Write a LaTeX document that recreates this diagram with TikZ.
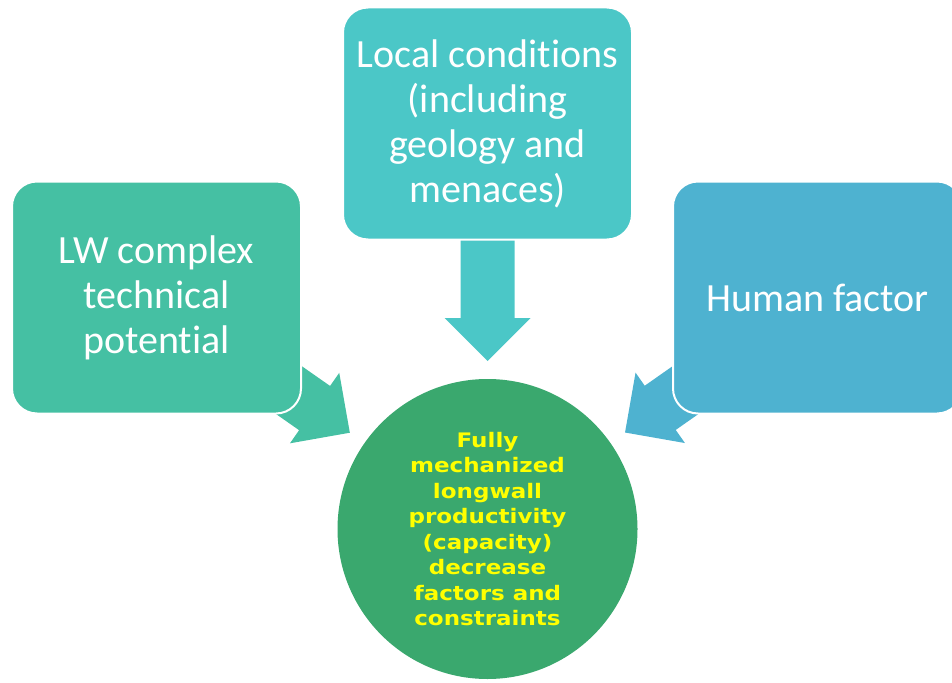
\documentclass[tikz,border=0pt]{standalone}
\usepackage{fontspec}
\setmainfont{Carlito}[Ligatures=NoCommon]
\newfontfamily\circfont{DejaVu Sans}[FakeStretch=1.15]
\usetikzlibrary{calc,backgrounds}
\definecolor{cLW}{RGB}{69,192,163}
\definecolor{cLoc}{RGB}{75,199,199}
\definecolor{cHum}{RGB}{78,178,208}
\definecolor{cProd}{RGB}{58,168,110}
\definecolor{cTxt}{RGB}{255,255,0}
\newcommand\blockarrow[3]{%
  \coordinate (hb) at ($(#2)!43pt!(#1)$);
  \fill[#3] ($(#1)!27pt!-90:(#2)$) -- ($(hb)!27pt!90:(#1)$) -- ($(hb)!43pt!90:(#1)$) -- (#2)
    -- ($(hb)!43pt!-90:(#1)$) -- ($(hb)!27pt!-90:(#1)$) -- ($(#1)!27pt!90:(#2)$) -- cycle;}
\begin{document}
\begin{tikzpicture}[x=1pt,y=-1pt,
  box/.style={rectangle, rounded corners=25pt, minimum width=289pt, minimum height=232pt,
    draw=white, line width=2pt, inner sep=0pt, text=white, align=center,
    font=\fontsize{40}{45}\selectfont},
  hub/.style={circle, minimum size=300pt, inner sep=0pt, fill=cProd, text=cTxt, align=center,
    font=\circfont\bfseries\fontsize{20}{25.5}\selectfont}]
\useasboundingbox (0,0) rectangle (952,682);
\clip (0,0) rectangle (952,682);
\node[box, fill=cLW] (lw) at (156.5,297.5) {LW complex\\technical\\potential};
\node[box, fill=cLoc] (loc) at (487.5,123.5) {Local conditions\\(including\\geology and\\menaces)};
\node[box, fill=cHum] (hum) at (817.5,297.5) {Human factor};
\node[hub] (prod) at (487.5,529) {Fully\\mechanized\\longwall\\productivity\\(capacity)\\decrease\\factors and\\constraints};
\coordinate (tipL) at ($(prod.center)!168pt!(lw.center)$);
\coordinate (tipM) at ($(prod.center)!168pt!(loc.center)$);
\coordinate (tipR) at ($(prod.center)!168pt!(hum.center)$);
\begin{scope}[on background layer]
\blockarrow{lw.center}{tipL}{cLW}
\blockarrow{loc.center}{tipM}{cLoc}
\blockarrow{hum.center}{tipR}{cHum}
\end{scope}
\end{tikzpicture}
\end{document}
